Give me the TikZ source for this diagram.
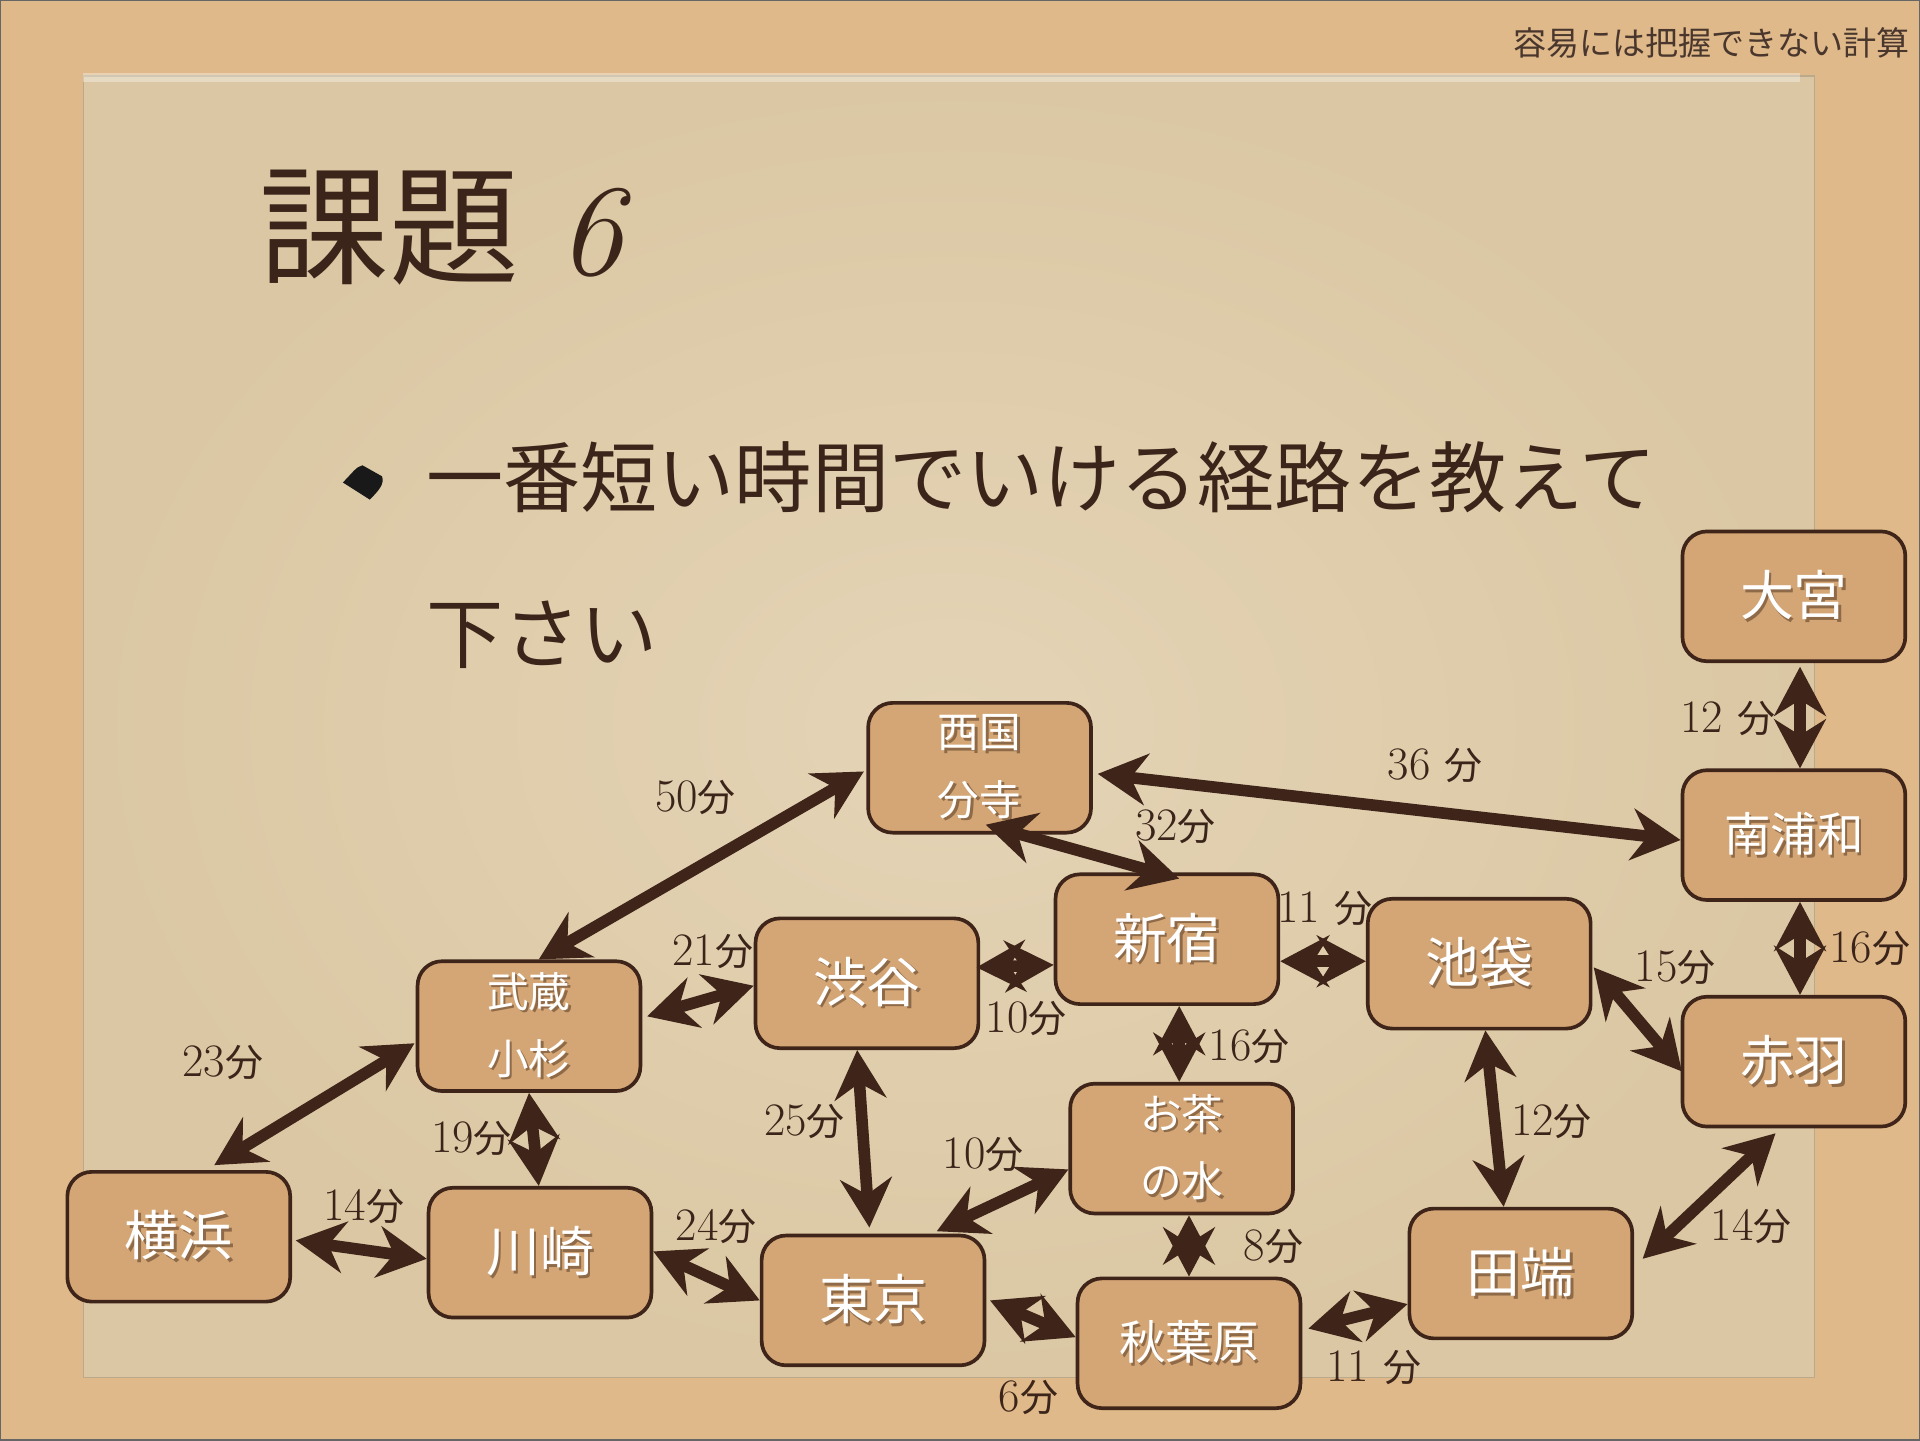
\documentclass[tikz,border=0pt]{standalone}
\usepackage{fontspec}
\newfontfamily\jp{Noto Sans CJK JP}
\usetikzlibrary{arrows.meta,calc}
\definecolor{outerbg}{HTML}{E0B98A}
\definecolor{paperin}{HTML}{E4D4B6}
\definecolor{paperout}{HTML}{DBC7A3}
\definecolor{boxfill}{HTML}{D4A675}
\definecolor{dk}{HTML}{3E2419}
\definecolor{txt}{HTML}{3B2419}
\definecolor{shad}{HTML}{8E6A48}
\newcommand\stx[1]{\makebox[0pt][l]{\hspace{2pt}\raisebox{-2pt}{\color{shad}#1}}#1}
\newcommand\fun{{\jp\fontsize{31}{31}\selectfont 分}}
\tikzset{
  station/.style={draw=dk, line width=3pt, rounded corners=20pt, fill=boxfill,
    minimum width=182pt, minimum height=106pt, text=white, align=center,
    inner sep=0pt, font=\jp\fontsize{44}{44}\selectfont},
  mid/.style={font=\jp\fontsize{38}{38}\selectfont},
  two/.style={font=\jp\fontsize{34}{55}\selectfont},
  dbl/.style={draw=dk, line width=9.5pt,
    {Stealth[length=40pt,width=42pt,inset=13pt]}-{Stealth[length=40pt,width=42pt,inset=13pt]}},
  lbl/.style={text=txt, inner sep=0pt, font=\fontsize{38}{38}\selectfont}
}
\begin{document}
\begin{tikzpicture}[x=1pt,y=-1pt]
\useasboundingbox (0,0) rectangle (1568,1176);
\fill[outerbg] (0,0) rectangle (1568,1176);
\shade[inner color=paperin, outer color=paperout] (68,62) rectangle (1482,1125);
\draw[paperout!85!black, line width=1.2pt] (68,62) rectangle (1482,1125);
\fill[white, opacity=0.35] (68,60) rectangle (1470,67);
\draw[black!60, line width=2pt] (0,0) rectangle (1568,1176);

% header and title
\node[anchor=east, text=txt!80!gray, font=\jp\fontsize{27}{27}\selectfont, inner sep=0pt] (hdr) at (1560,35) {容易には把握できない計算};
\node[anchor=west, text=txt, inner sep=0pt, font=\jp\fontsize{106}{106}\selectfont] (title) at (212,186) {課題\hspace{0.3em}{\fontspec{Latin Modern Roman}\itshape 6}};

% bullet
\fill[black!90] (280,394) .. controls (288,386) and (291,381) .. (296,380) -- (312,389) .. controls (314,395) and (310,400) .. (302,408) -- cycle;
\node[anchor=base west, text=txt, inner sep=0pt, font=\jp\fontsize{63}{63}\selectfont] (b1) at (348,414) {一番短い時間でいける経路を教えて};
\node[anchor=base west, text=txt, inner sep=0pt, font=\jp\fontsize{63}{63}\selectfont] (b2) at (348,541) {下さい};

% stations
\node[station] (om) at (1465,487) {\stx{大宮}};
\node[station,mid] (mu) at (1465,682) {\stx{南浦和}};
\node[station] (ak) at (1465,867) {\stx{赤羽}};
\node[station,two] (sg) at (800,627) {\stx{西国}\\\stx{分寺}};
\node[station] (sj) at (953,767) {\stx{新宿}};
\node[station] (ik) at (1208,787) {\stx{池袋}};
\node[station] (sb) at (708,803) {\stx{渋谷}};
\node[station,two] (mk) at (432,838) {\stx{武蔵}\\\stx{小杉}};
\node[station,two] (oc) at (965,938) {\stx{お茶}\\\stx{の水}};
\node[station] (yk) at (146,1010) {\stx{横浜}};
\node[station] (kw) at (441,1023) {\stx{川崎}};
\node[station] (tk) at (713,1062) {\stx{東京}};
\node[station,mid] (ah) at (971,1097) {\stx{秋葉原}};
\node[station] (tb) at (1242,1040) {\stx{田端}};

% connectors
\draw[dbl] ($(sg.east)+(4,5)$) -- ($(mu.west)+(0,4)$);
\draw[dbl] ($(sg.south)+(5,-8)$) -- ($(sj.north)+(10,5)$);
\draw[dbl] ($(sg.west)+(-2,3)$) -- ($(mk.north)+(8,0)$);
\draw[dbl] ($(om.south)+(5,3)$) -- ($(mu.north)+(5,0)$);
\draw[dbl] ($(mu.south)+(5,0)$) -- ($(ak.north)+(5,0)$);
\draw[dbl] ($(ik.east)+(1,3)$) -- ($(ak.west)+(1,8)$);
\draw[dbl] ($(sj.east)+(0,18)$) -- ($(ik.west)+(0,-2)$);
\draw[dbl] ($(sb.east)+(-3,-13)$) -- ($(sj.west)+(0,21)$);
\draw[dbl] ($(mk.east)+(4,-8)$) -- ($(sb.west)+(0,2)$);
\draw[dbl] ($(sj.south)+(10,0)$) -- ($(oc.north)+(-2,0)$);
\draw[dbl] ($(ik.south)+(5,0)$) -- ($(tb.north)+(-14,0)$);
\draw[dbl] ($(ak.south)+(-15,4)$) -- ($(tb.east)+(7,-12)$);
\draw[dbl] ($(yk.north)+(29,-4)$) -- ($(mk.west)+(-1,14)$);
\draw[dbl] (mk.south) -- ($(kw.north)+(-1,0)$);
\draw[dbl] ($(yk.east)+(3,3)$) -- ($(kw.west)+(0,5)$);
\draw[dbl] ($(kw.east)+(0,-1)$) -- (tk.west);
\draw[dbl] ($(sb.south)+(-8,0)$) -- ($(tk.north)+(-3,-5)$);
\draw[dbl] ($(tk.north)+(52,-2)$) -- ($(oc.west)+(0,17)$);
\draw[dbl] ($(oc.south)+(6,0)$) -- (ah.north);
\draw[dbl] ($(tk.east)+(3,0)$) -- ($(ah.west)+(0,-5)$);
\draw[dbl] ($(ah.east)+(5,-12)$) -- ($(tb.west)+(0,25)$);

% labels
\node[lbl] (l1) at (1172,625) {36 \fun};
\node[lbl] (l2) at (960,675) {32\fun};
\node[lbl] (l3) at (568,651) {50\fun};
\node[lbl] (l4) at (1411,587) {12 \fun};
\node[lbl] (l5) at (1527,775) {16\fun};
\node[lbl] (l6) at (1368,790) {15\fun};
\node[lbl] (l7) at (1082,742) {11 \fun};
\node[lbl] (l8) at (838,832) {10\fun};
\node[lbl] (l9) at (582,777) {21\fun};
\node[lbl] (l10) at (1020,855) {16\fun};
\node[lbl] (l11) at (1267,916) {12\fun};
\node[lbl] (l12) at (1430,1002) {14\fun};
\node[lbl] (l13) at (182,868) {23\fun};
\node[lbl] (l14) at (385,930) {19\fun};
\node[lbl] (l15) at (297,985) {14\fun};
\node[lbl] (l16) at (585,1002) {24\fun};
\node[lbl] (l17) at (657,916) {25\fun};
\node[lbl] (l18) at (803,943) {10\fun};
\node[lbl] (l19) at (1040,1018) {8\fun};
\node[lbl] (l20) at (840,1141) {6\fun};
\node[lbl] (l21) at (1122,1117) {11 \fun};
\end{tikzpicture}
\end{document}
